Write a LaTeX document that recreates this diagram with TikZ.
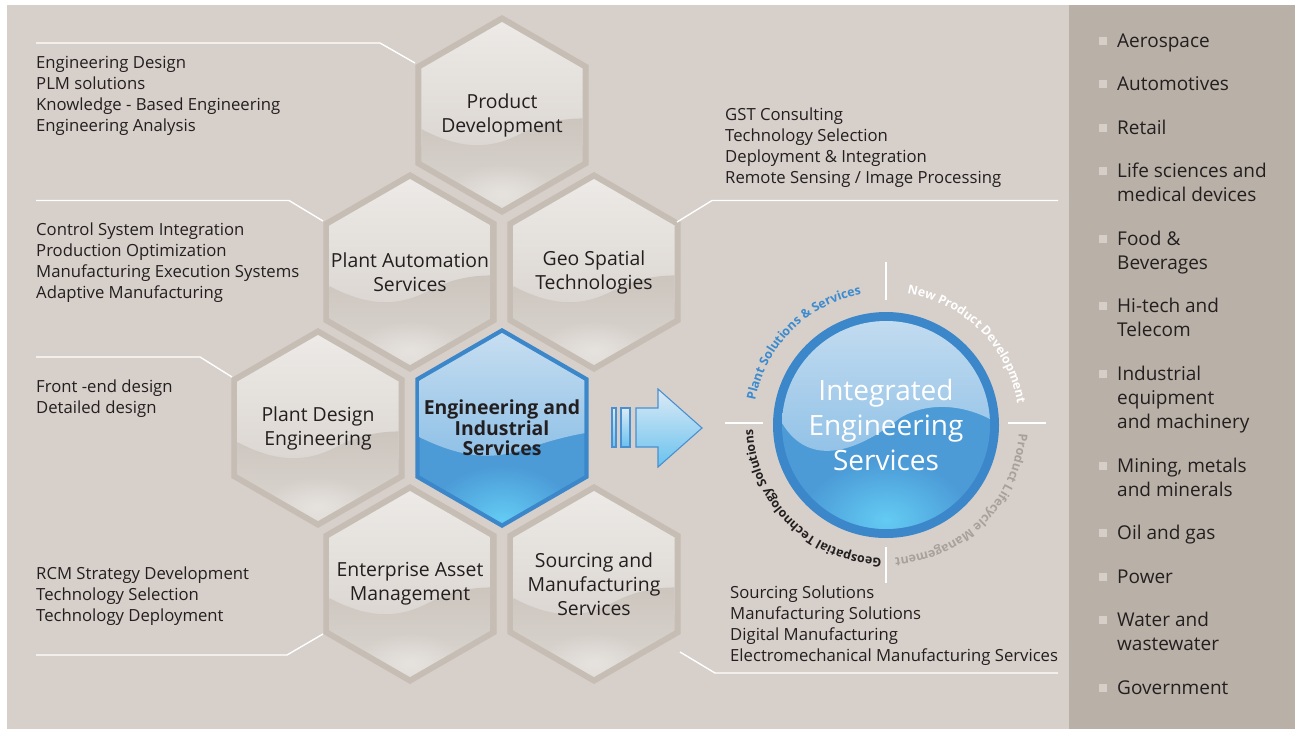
\documentclass[tikz,border=0pt]{standalone}
\usepackage{fontspec}
\setmainfont{Open Sans}
\newfontfamily\rfont{Open Sans}
\usetikzlibrary{decorations.text,fadings}
\definecolor{bgL}{HTML}{D7CFC9}
\definecolor{bgR}{HTML}{B9B1A7}
\definecolor{hexband}{HTML}{C6BEB5}
\definecolor{hexA}{HTML}{EDEAE7}
\definecolor{hexB}{HTML}{DCD7D2}
\definecolor{hexC}{HTML}{CCC5BE}
\definecolor{hexD}{HTML}{DDD8D3}
\definecolor{txt}{HTML}{231F20}
\definecolor{blueB}{HTML}{3B87CA}
\definecolor{blueT}{HTML}{C9DFF1}
\definecolor{blueW}{HTML}{8CBFE6}
\definecolor{blueL}{HTML}{4C9BD7}
\definecolor{blueG}{HTML}{64CCF4}
\definecolor{bullet}{HTML}{D6CFC8}
\definecolor{plantblue}{HTML}{3B8BD0}
\definecolor{plmgray}{HTML}{A8A19B}
\definecolor{arrowT}{HTML}{DCEAF6}
\definecolor{arrowB}{HTML}{69C2EE}
\definecolor{arrowL}{HTML}{4A90D0}
\tikzfading[name=glowfade, inner color=transparent!0, outer color=transparent!100]
\newcommand\hexp[1]{(90:#1) -- (30:#1) -- (-30:#1) -- (-90:#1) -- (-150:#1) -- (150:#1) -- cycle}
\newcommand\greyhex[4]{%
 \begin{scope}[shift={(#2,-#3)}]
  \fill[hexband] \hexp{100};
  \begin{scope}
   \clip \hexp{93};
   \shade[top color=hexA, bottom color=hexB] (-95,95) rectangle (95,-30);
   \shade[top color=hexC, bottom color=hexD] (-95,-6) .. controls (-55,-30) and (-20,-40) .. (20,-18) .. controls (45,-5) and (70,-2) .. (95,-4) -- (95,-100) -- (-95,-100) -- cycle;
   \fill[white, opacity=0.35, path fading=glowfade] (0,-78) ellipse (55 and 30);
  \end{scope}
 \end{scope}
 \node[hexlabel] (#1) at (#2,-#3) {#4};
}
\tikzset{
  lefttxt/.style={anchor=base west, inner sep=0, text=txt, font=\fontsize{16.7}{20}\selectfont},
  righttxt/.style={anchor=base west, inner sep=0, text=txt, font=\rfont\fontsize{19}{22}\selectfont},
  hexlabel/.style={align=center, inner sep=0, text=txt, font=\fontsize{19.4}{24}\selectfont},
  conn/.style={draw=white, line width=1.4pt},
  bul/.style={fill=bullet},
  arr/.style={draw=arrowL, line width=1.1pt, top color=arrowT, bottom color=arrowB},
  curv/.style={decorate, decoration={text along path, text align=center, text color=#1}},
}
\newcommand\cfont{\bfseries\fontsize{12.4}{14}\selectfont}
\begin{document}
\begin{tikzpicture}[x=1pt,y=1pt]
\useasboundingbox (0,0) rectangle (1295,-729);
\fill[white] (0,0) rectangle (1295,-729);
\fill[bgL] (7,-5) rectangle (1069,-729);
\fill[bgR] (1069,-5) rectangle (1295,-729);

% hexagons
\greyhex{pd}{502}{115}{Product\\Development}
\greyhex{pa}{410}{272}{Plant Automation\\Services}
\greyhex{gs}{594}{272}{Geo Spatial\\Technologies}
\greyhex{pde}{318}{428}{Plant Design\\Engineering}
\greyhex{eam}{410}{584}{Enterprise Asset\\Management}
\greyhex{sms}{594}{584}{Sourcing and\\Manufacturing\\Services}

% central blue hexagon
\begin{scope}[shift={(502,-428)}]
  \fill[blueB] \hexp{100};
  \begin{scope}
    \clip \hexp{95};
    \fill[blueL] (-100,-100) rectangle (100,100);
    \fill[blueG, path fading=glowfade] (0,-92) ellipse (75 and 55);
    \shade[top color=blueT, bottom color=blueW] (-100,100) -- (-100,0) .. controls (-55,-25) and (-20,-35) .. (20,-22) .. controls (50,-12) and (75,-5) .. (100,-3) -- (100,100) -- cycle;
  \end{scope}
\end{scope}
\node[hexlabel, font=\bfseries\fontsize{19.4}{20.5}\selectfont] (eis) at (502,-428) {Engineering and\\Industrial\\Services};

% arrow
\path[arr] (612,-408) rectangle (616,-447);
\path[arr] (621,-408) rectangle (630,-447);
\path[arr] (636,-408) -- (658,-408) -- (658,-389) -- (702,-428) -- (658,-467) -- (658,-447) -- (636,-447) -- cycle;

% circle
\fill[blueB] (886,-425) circle (113);
\begin{scope}
  \clip (886,-425) circle (104);
  \fill[blueL] (886,-425) circle (106);
  \fill[blueG, path fading=glowfade] (886,-520) ellipse (85 and 60);
  \shade[top color=blueT, bottom color=blueW] (770,-300) -- (770,-423) -- (782,-423) .. controls (810,-470) and (860,-450) .. (900,-418) .. controls (930,-400) and (970,-405) .. (1000,-425) -- (1000,-300) -- cycle;
\end{scope}
\node[align=center, inner sep=0, text=white, font=\fontsize{28}{35}\selectfont] (ies) at (886,-425) {Integrated\\Engineering\\Services};

% cross ticks
\draw[conn, line width=2pt] (886,-262) -- (886,-300);
\draw[conn, line width=2pt] (886,-547) -- (886,-583);
\draw[conn, line width=2pt] (725,-423) -- (763,-423);
\draw[conn, line width=2pt] (1008,-423) -- (1046,-423);

% curved texts
\path[curv=plantblue, decoration={text={|\cfont|Plant Solutions {\&} Services}}] (886,-425) ++(195:133) arc[start angle=195, end angle=75, radius=133];
\path[curv=white, decoration={text={|\cfont|New Product Development}}] (886,-425) ++(105:133) arc[start angle=105, end angle=-15, radius=133];
\path[curv=plmgray, decoration={text={|\cfont|Product Lifecycle Management}}] (886,-425) ++(15:133) arc[start angle=15, end angle=-105, radius=133];
\path[curv=txt, decoration={text={|\cfont|Geospatial Technology Solutions}}] (886,-425) ++(-75:133) arc[start angle=-75, end angle=-195, radius=133];

% left text groups
\foreach \t [count=\i] in {Engineering Design, PLM solutions, Knowledge - Based Engineering, Engineering Analysis}
  \node[lefttxt] (ga\i) at (36,{-68-21*(\i-1)}) {\t};
\foreach \t [count=\i] in {Control System Integration, Production Optimization, Manufacturing Execution Systems, Adaptive Manufacturing}
  \node[lefttxt] (gb\i) at (36,{-235-21*(\i-1)}) {\t};
\foreach \t [count=\i] in {Front -end design, Detailed design}
  \node[lefttxt] (gc\i) at (36,{-392-21*(\i-1)}) {\t};
\foreach \t [count=\i] in {RCM Strategy Development, Technology Selection, Technology Deployment}
  \node[lefttxt] (gd\i) at (36,{-579-21*(\i-1)}) {\t};
\foreach \t [count=\i] in {GST Consulting, Technology Selection, Deployment \& Integration, Remote Sensing / Image Processing}
  \node[lefttxt] (ge\i) at (725,{-120-21*(\i-1)}) {\t};
\foreach \t [count=\i] in {Sourcing Solutions, Manufacturing Solutions, Digital Manufacturing, Electromechanical Manufacturing Services}
  \node[lefttxt] (gf\i) at (730,{-598-21*(\i-1)}) {\t};

% connector lines
\coordinate (a0) at (36,-43);   \coordinate (a1) at (380,-43);   \coordinate (a2) at (415,-63);
\coordinate (b0) at (36,-200.5); \coordinate (b1) at (289,-200.5); \coordinate (b2) at (323,-221);
\coordinate (c0) at (36,-357);  \coordinate (c1) at (200,-357);  \coordinate (c2) at (232,-377);
\coordinate (d0) at (36,-655);  \coordinate (d1) at (287,-655);  \coordinate (d2) at (323,-634);
\coordinate (e0) at (1058,-200.5); \coordinate (e1) at (712,-200.5); \coordinate (e2) at (677,-222);
\coordinate (f0) at (1058,-673); \coordinate (f1) at (715,-673); \coordinate (f2) at (680,-652);
\draw[conn] (a0) -- (a1) -- (a2);
\draw[conn] (b0) -- (b1) -- (b2);
\draw[conn] (c0) -- (c1) -- (c2);
\draw[conn] (d0) -- (d1) -- (d2);
\draw[conn] (e0) -- (e1) -- (e2);
\draw[conn] (f0) -- (f1) -- (f2);

% right panel
\foreach \y in {41,84,128,171,239,306,374,466,533,577,620,688}
  \fill[bul] (1099,-\y+4) rectangle (1107,-\y-4);
\foreach \y/\t [count=\i] in {41/Aerospace, 84/Automotives, 128/Retail, 171/Life sciences and, 195/medical devices, 239/Food \&, 263/Beverages, 306/Hi-tech and, 330/Telecom, 374/Industrial, 398/equipment, 422/and machinery, 466/{Mining, metals}, 490/and minerals, 533/Oil and gas, 577/Power, 620/Water and, 644/wastewater, 688/Government}
  \node[righttxt] (r\i) at (1117,-\y-6.5) {\t};
\end{tikzpicture}
\end{document}
